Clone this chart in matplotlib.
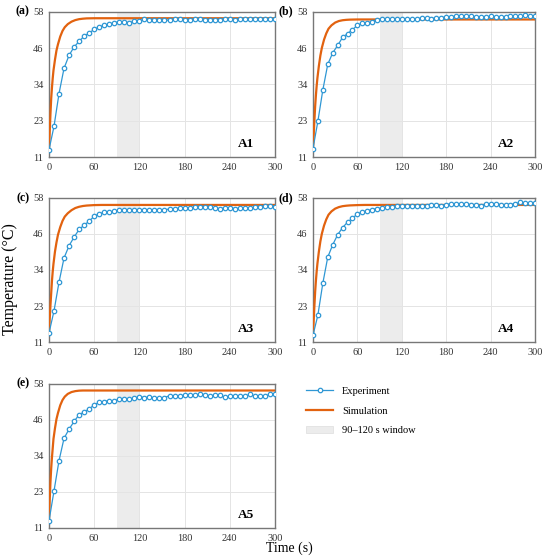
import numpy as np
import matplotlib
matplotlib.use('Agg')
import matplotlib.pyplot as plt
from matplotlib.lines import Line2D
from matplotlib.patches import Patch

plt.rcParams['font.family'] = ['Liberation Serif', 'DejaVu Serif']

# experiment sampling times (s)
exp_t = [0, 6.67, 13.33, 20, 26.67, 33.33, 40, 46.67, 53.33, 60, 66.67, 73.33, 80, 86.67, 93.33,
         100, 106.67, 113.33, 120, 126.67, 133.33, 140, 146.67, 153.33, 160, 166.67, 173.33, 180,
         186.67, 193.33, 200, 206.67, 213.33, 220, 226.67, 233.33, 240, 246.67, 253.33, 260,
         266.67, 273.33, 280, 286.67, 293.33, 300]

# simulation curve sample times (s)
sim_t = [0, 1, 2, 3, 4, 5, 6, 8, 10, 12, 15, 18, 21, 25, 30, 35, 40, 45, 50, 60, 70, 80, 100,
         150, 200, 250, 300]

exp_A1 = [13.3, 20.9, 31.5, 39.7, 43.9, 46.6, 48.4, 50.1, 51.1, 52.3, 53.1, 53.6, 54.0, 54.5, 54.7,
          54.6, 54.5, 54.9, 55.0, 55.5, 55.4, 55.3, 55.2, 55.2, 55.3, 55.5, 55.5, 55.4, 55.3, 55.6,
          55.5, 55.4, 55.3, 55.4, 55.4, 55.7, 55.5, 55.4, 55.5, 55.6, 55.8, 55.8, 55.8, 55.7, 55.7, 55.6]
exp_A2 = [13.7, 22.6, 32.7, 41.0, 44.7, 47.1, 49.7, 50.9, 52.2, 53.6, 54.3, 54.4, 54.8, 55.3, 55.6,
          55.7, 55.8, 55.7, 55.6, 55.6, 55.7, 55.8, 55.9, 55.9, 55.8, 56.0, 56.1, 56.3, 56.4, 56.5,
          56.5, 56.6, 56.5, 56.2, 56.3, 56.4, 56.5, 56.4, 56.3, 56.4, 56.5, 56.5, 56.6, 56.8, 56.7, 56.6]
exp_A3 = [13.9, 21.1, 30.5, 38.4, 42.4, 45.2, 47.7, 49.1, 50.4, 52.0, 52.8, 53.3, 53.4, 53.6, 53.9,
          53.9, 53.9, 54.1, 54.2, 54.1, 54.1, 54.2, 54.2, 54.1, 54.4, 54.5, 54.6, 54.7, 54.8, 54.9,
          54.9, 54.9, 55.0, 54.6, 54.5, 54.7, 54.8, 54.5, 54.6, 54.7, 54.8, 54.9, 55.0, 55.4, 55.3, 55.1]
exp_A4 = [13.2, 19.8, 30.2, 38.7, 42.7, 46.0, 48.3, 50.1, 51.3, 52.8, 53.4, 53.8, 54.2, 54.5, 54.7,
          55.0, 55.1, 55.3, 55.5, 55.3, 55.3, 55.2, 55.3, 55.5, 55.6, 55.6, 55.4, 55.8, 56.0, 56.0,
          56.1, 55.9, 55.6, 55.6, 55.4, 56.0, 56.0, 55.9, 55.8, 55.7, 55.8, 56.1, 56.5, 56.4, 56.4, 56.2]
exp_A5 = [13.2, 23.0, 32.9, 40.2, 43.2, 45.7, 47.9, 48.8, 49.8, 51.1, 52.0, 52.2, 52.5, 52.5, 52.9,
          52.9, 53.1, 53.3, 53.7, 53.5, 53.6, 53.4, 53.3, 53.5, 54.1, 54.1, 54.0, 54.3, 54.2, 54.4,
          54.5, 54.2, 54.1, 54.2, 54.2, 53.6, 53.9, 54.1, 54.1, 53.9, 54.5, 53.9, 54.0, 54.0, 54.5, 54.6]

sim_A1 = [13.3, 19, 25, 30, 33.5, 36.5, 39, 42.5, 45.5, 47.5, 50, 51.8, 53, 54, 54.8, 55.3, 55.6,
          55.75, 55.85, 55.9, 55.9, 55.9, 55.9, 55.9, 55.9, 55.9, 55.9]
sim_A2 = [13.7, 18, 23, 27.5, 31, 34, 36.5, 40.5, 43.8, 46.3, 49, 51, 52.5, 53.6, 54.5, 55, 55.25,
          55.38, 55.45, 55.5, 55.5, 55.5, 55.5, 55.5, 55.5, 55.5, 55.5]
sim_A3 = [13.9, 18.5, 23, 27, 31, 34, 36.5, 40.5, 43.5, 46, 48.5, 50.5, 51.9, 53, 54, 54.7, 55.1,
          55.35, 55.5, 55.65, 55.7, 55.7, 55.7, 55.7, 55.7, 55.7, 55.7]
sim_A4 = [13.2, 18, 23, 27.5, 31, 34, 36.5, 40.5, 43.8, 46.3, 49, 51, 52.5, 53.6, 54.5, 55, 55.3,
          55.45, 55.55, 55.65, 55.7, 55.7, 55.7, 55.7, 55.7, 55.7, 55.7]
sim_A5 = [13.2, 20, 26, 30.5, 34, 37, 40, 43.5, 46.5, 48.5, 51, 52.7, 53.8, 54.7, 55.3, 55.6, 55.75,
          55.8, 55.8, 55.8, 55.8, 55.8, 55.8, 55.8, 55.8, 55.8, 55.8]

panels = ['(a)', '(b)', '(c)', '(d)', '(e)']
names = ['A1', 'A2', 'A3', 'A4', 'A5']
exps = [exp_A1, exp_A2, exp_A3, exp_A4, exp_A5]
sims = [sim_A1, sim_A2, sim_A3, sim_A4, sim_A5]

# axes rectangles [left, bottom, width, height]
rects = [[0.089, 0.719, 0.411, 0.260],
         [0.569, 0.719, 0.404, 0.260],
         [0.089, 0.388, 0.411, 0.258],
         [0.569, 0.388, 0.404, 0.258],
         [0.089, 0.0555, 0.411, 0.258]]

BLUE = '#2f97d4'
ORANGE = '#e2620f'

fig = plt.figure(figsize=(5.5, 5.59), dpi=100)

for i in range(5):
    ax = fig.add_axes(rects[i])
    ax.axvspan(90, 120, color='#ececec', zorder=0, lw=0)
    ax.plot(sim_t, sims[i], color=ORANGE, lw=1.6, zorder=3)
    ax.plot(exp_t, exps[i], color=BLUE, lw=0.9, marker='o', ms=3.2, mfc='white',
            mec=BLUE, mew=0.9, zorder=4)
    ax.set_xlim(0, 300)
    ax.set_ylim(11, 58)
    ax.set_xticks([0, 60, 120, 180, 240, 300])
    yt = np.linspace(11, 58, 5)
    ax.set_yticks(yt)
    ax.set_yticklabels(['%.0f' % v for v in yt])
    ax.tick_params(length=0, labelsize=7.5, pad=4, colors='#333333')
    ax.grid(True, color='#e4e4e4', lw=0.7, zorder=1)
    ax.set_axisbelow(True)
    for s in ax.spines.values():
        s.set_color('#777777')
        s.set_linewidth(1.0)
    ax.text(0.87, 0.09, names[i], transform=ax.transAxes, ha='center', va='center',
            fontsize=9.5, fontweight='bold')
    ax.annotate(panels[i], (0, 1), xycoords='axes fraction', xytext=(-14, 0),
                textcoords='offset points', ha='right', va='center',
                fontsize=8.5, fontweight='bold')

fig.text(0.018, 0.50, 'Temperature (°C)', rotation=90, ha='center', va='center', fontsize=11.5)
fig.text(0.527, 0.02, 'Time (s)', ha='center', va='center', fontsize=10)

handles = [Line2D([0], [0], color=BLUE, lw=0.9, marker='o', ms=3.2, mfc='white', mec=BLUE, mew=0.9),
           Line2D([0], [0], color=ORANGE, lw=1.6),
           Patch(facecolor='#ececec', edgecolor='#dddddd', lw=0.5)]
fig.legend(handles, ['Experiment', 'Simulation', '90–120 s window'],
           loc='upper left', bbox_to_anchor=(0.54, 0.325), frameon=False,
           fontsize=7.5, handlelength=2.6, labelspacing=1.0)

fig.savefig('out.png', dpi=100)
